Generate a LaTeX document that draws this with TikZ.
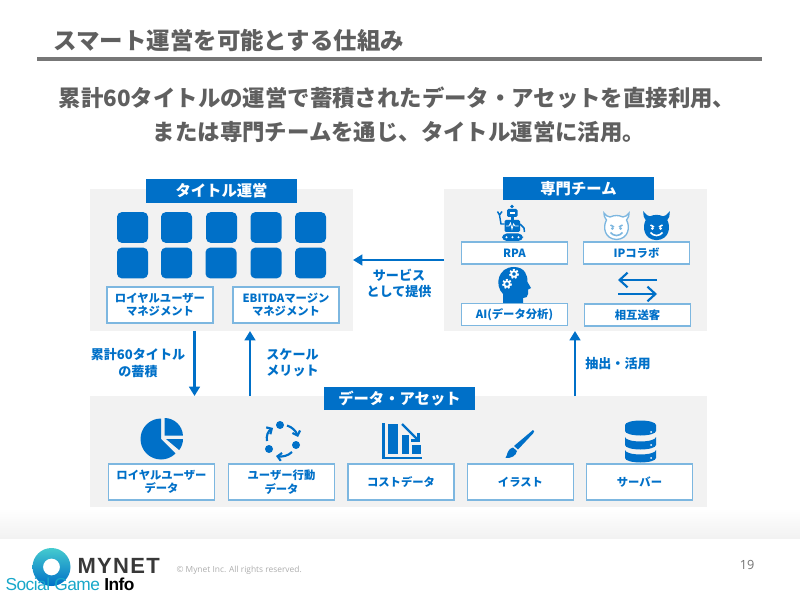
\documentclass[tikz,border=0pt]{standalone}
\usepackage{fontspec}
\setmainfont{Noto Sans CJK JP}
\newfontfamily\logofont[LetterSpace=6]{Liberation Sans}
\newfontfamily\wmfont[LetterSpace=-3]{Liberation Sans}
\newfontfamily\footfont{Open Sans}
\usetikzlibrary{arrows.meta}

\definecolor{mainblue}{HTML}{0070C8}
\definecolor{edgeblue}{HTML}{7DB7E0}
\definecolor{panelgray}{HTML}{F2F2F2}
\definecolor{textgray}{HTML}{5F5F5F}
\definecolor{siteteal}{HTML}{18A7C9}
\definecolor{ringtop}{HTML}{45CBCF}

\tikzset{every picture/.style={line width=0.75pt}}
\tikzset{
  panelbox/.style={fill=panelgray,inner sep=0pt,outer sep=0pt,minimum width=197.25pt,minimum height=106.5pt},
  headbox/.style={fill=mainblue,text=white,inner sep=0pt,outer sep=0pt,minimum width=113.25pt,minimum height=17.6pt,font=\fontsize{11.5}{13}\selectfont\bfseries},
  tilebox/.style={fill=mainblue,rounded corners=3.5pt,inner sep=0pt,minimum width=23.25pt,minimum height=23pt},
  namebox/.style={draw=edgeblue,line width=1pt,fill=white,text=mainblue,inner sep=0pt,outer sep=0pt,minimum width=79.5pt,align=center,font=\fontsize{8.5}{10}\selectfont\bfseries},
  tallbox/.style={namebox,minimum height=27pt},
  lowbox/.style={namebox,minimum height=16.5pt},
  sidelabel/.style={text=mainblue,inner sep=0pt,align=center,font=\fontsize{9.8}{12.2}\selectfont\bfseries},
  flowline/.style={draw=mainblue,line width=2pt,-{Triangle[length=7pt,width=8pt]}},
  iconline/.style={draw=mainblue,line width=1.6pt}
}

% one face with horns, at #1,#2: fill, outline, features
\newcommand{\devilface}[5]{
\begin{scope}[shift={(#1,#2)}]
\draw [fill=#3,draw=#4,line width=1pt] (-10,-8) .. controls (-12,-11) and (-13,-13) .. (-12.5,-15) .. controls (-11,-12.5) and (-9,-11.5) .. (-6.5,-11) .. controls (-2,-13) and (2,-13) .. (6.5,-11) .. controls (9,-11.5) and (11,-12.5) .. (12.5,-15) .. controls (13,-13) and (12,-11) .. (10,-8) .. controls (14,-1) and (12,11) .. (0,11.5) .. controls (-12,11) and (-14,-1) .. (-10,-8) -- cycle;
\draw [draw=#5,line width=1.2pt] (-6,-3) -- (-2.5,-1) (6,-3) -- (2.5,-1);
\fill [#5] (-4.2,0.5) circle [radius=1.5] (4.2,0.5) circle [radius=1.5];
\draw [draw=#5,line width=1.2pt] (-6,4.5) .. controls (-3,8.5) and (3,8.5) .. (6,4.5);
\end{scope}
}

\begin{document}
\begin{tikzpicture}[x=0.75pt,y=0.75pt,yscale=-1,xscale=1]
\useasboundingbox (0,0) rectangle (800,595);

%Footer band
\path [top color=white,bottom color=panelgray] (0,508) rectangle (800,538);

% Heading
\draw (53,41) node (pagetitle) [anchor=west,inner sep=0pt,text=textgray,font=\fontsize{17.6}{20}\selectfont\bfseries] {スマート運営を可能とする仕組み};
\draw [draw=textgray!85,line width=2.4pt] (37,59) -- (762,59);
\draw (397,98) node (leadone) [inner sep=0pt,text=textgray,font=\fontsize{16.8}{20}\selectfont\bfseries] {累計60タイトルの運営で蓄積されたデータ・アセットを直接利用、};
\draw (399,132) node (leadtwo) [inner sep=0pt,text=textgray,font=\fontsize{16.8}{20}\selectfont\bfseries] {または専門チームを通じ、タイトル運営に活用。};

% Panels
\draw (221.5,260) node (titlepanel) [panelbox] {};
\draw (575.5,260) node (teampanel) [panelbox] {};
\draw (398.5,451.5) node (assetpanel) [panelbox,minimum width=462.75pt,minimum height=83.25pt] {};
\draw (221.5,191) node (titlehead) [headbox] {タイトル運営};
\draw (578.5,188.5) node (teamhead) [headbox] {専門チーム};
\draw (399.5,398.5) node (assethead) [headbox] {データ・アセット};

% Tiles
\draw (132.5,227.5) node (tilea) [tilebox] {};
\draw (176.5,227.5) node (tileb) [tilebox] {};
\draw (221.5,227.5) node (tilec) [tilebox] {};
\draw (266,227.5) node (tiled) [tilebox] {};
\draw (310.5,227.5) node (tilee) [tilebox] {};
\draw (132.5,263) node (tilef) [tilebox] {};
\draw (176.5,263) node (tileg) [tilebox] {};
\draw (221,263) node (tileh) [tilebox] {};
\draw (266,263) node (tilei) [tilebox] {};
\draw (310.5,263) node (tilej) [tilebox] {};

% Name boxes
\draw (160,305) node (royalbox) [tallbox] {ロイヤルユーザー\\マネジメント};
\draw (286,305) node (ebitdabox) [tallbox] {EBITDAマージン\\マネジメント};
\draw (514.5,253) node (rpabox) [lowbox] {RPA};
\draw (636.5,253) node (ipbox) [lowbox] {IPコラボ};
\draw (514.5,314.5) node (aibox) [lowbox] {AI(データ分析)};
\draw (637.5,315) node (sendbox) [lowbox] {相互送客};
\draw (161.5,482) node (royaldata) [tallbox] {ロイヤルユーザー\\データ};
\draw (281.5,482) node (actiondata) [tallbox] {ユーザー行動\\データ};
\draw (401,482) node (costdata) [tallbox] {コストデータ};
\draw (520.5,482) node (artdata) [tallbox] {イラスト};
\draw (639.5,482) node (serverdata) [tallbox] {サーバー};

% Connectors
\coordinate (downa) at (194.5,331);
\coordinate (downb) at (194.5,396);
\coordinate (upa) at (250,396);
\coordinate (upb) at (250,331);
\coordinate (upc) at (575,396);
\coordinate (upd) at (575,331);
\draw [flowline] (teampanel.west) -- (titlepanel.east);
\draw [flowline] (downa) -- (downb);
\draw [flowline] (upa) -- (upb);
\draw [flowline] (upc) -- (upd);

% Side labels
\draw (399,283.5) node (servicetext) [sidelabel] {サービス\\として提供};
\draw (138,363) node (stocktext) [sidelabel] {累計60タイトル\\の蓄積};
\draw (292.5,363) node (scaletext) [sidelabel] {スケール\\メリット};
\draw (618,364) node (usetext) [sidelabel] {抽出・活用};

%Robot
\fill [mainblue] (512,206.5) circle [radius=1.8];
\draw [fill=mainblue,draw=none,rounded corners=1pt] (507,209) rectangle (517.5,217);
\fill [white] (510,212) rectangle (514.5,214);
\fill [mainblue] (511,217) rectangle (514,220);
\draw [fill=mainblue,draw=none,rounded corners=1pt] (504.5,220) rectangle (520,232);
\draw [draw=white,line width=0.6pt] (506,226) -- (509,226) -- (510.5,223) -- (512,229) -- (513.5,224) -- (515,226) -- (518.5,226);
\draw [fill=mainblue,draw=none,rounded corners=3.5pt] (502,233.5) rectangle (523,241);
\fill [white] (506.5,237.2) circle [radius=1.1] (512.5,237.2) circle [radius=1.1] (518.5,237.2) circle [radius=1.1];
\draw [draw=mainblue,line width=1.1pt] (504.5,224) -- (501,224) -- (499.5,215) (497.5,211.5) -- (499.5,215) -- (502,211.5);
\draw [draw=mainblue,line width=1.1pt] (520,224) -- (524,228) -- (524.5,232);

%Devils
\devilface{616.5}{228}{white}{edgeblue}{edgeblue}
\devilface{656.5}{228}{mainblue}{mainblue}{white}

%Head with gears
\fill [mainblue] (503,303) -- (503,294) .. controls (494,285) and (498,267) .. (514,267) .. controls (525,267) and (528,276) .. (527.5,282) -- (531,288) -- (528,289.5) -- (528,294) .. controls (528,297) and (526,298) .. (523,298) -- (523,303) -- cycle;
\draw [draw=white,line width=1.6pt,dash pattern=on 1.3pt off 1.3pt] (514,274) circle [radius=4];
\draw [draw=white,line width=1.3pt] (514,274) circle [radius=2.8];
\draw [draw=white,line width=1.6pt,dash pattern=on 1.3pt off 1.3pt] (507,284) circle [radius=4];
\draw [draw=white,line width=1.3pt] (507,284) circle [radius=2.8];

%Two way arrows
\coordinate (swapa) at (657,280);
\coordinate (swapb) at (618,280);
\coordinate (swapc) at (618,294);
\coordinate (swapd) at (657,294);
\draw [iconline,-{Straight Barb[length=6pt,width=11pt]}] (swapa) -- (swapb);
\draw [iconline,-{Straight Barb[length=6pt,width=11pt]}] (swapc) -- (swapd);

%Pie
\fill [mainblue] (161,439) -- (161,418.5) arc [start angle=270,delta angle=-225,radius=20.5] -- cycle;
\fill [mainblue] (164.5,435.5) -- (164.5,418) arc [start angle=-90,end angle=-3,radius=18.5] -- cycle;
\fill [mainblue] (166,439) -- (183,439) arc [start angle=0,end angle=38,radius=18] -- cycle;

%Cycle
\fill [mainblue] (280,425) circle [radius=4] (296,445) circle [radius=4] (269,449) circle [radius=4];
\draw [iconline,-{Straight Barb[length=3pt,width=6pt]}] (287,425.5) .. controls (292,427) and (296,431) .. (298,437);
\draw [iconline,-{Straight Barb[length=3pt,width=6pt]}] (292,452) .. controls (288,456) and (282,457) .. (276,456);
\draw [iconline,-{Straight Barb[length=3pt,width=6pt]}] (267,441) .. controls (266,436) and (268,431) .. (273,428);

%Bars
\fill [mainblue] (382,423) rectangle (385,459);
\fill [mainblue] (382,456.5) rectangle (422,459);
\fill [mainblue] (388,423.5) rectangle (398,453.5);
\fill [mainblue] (401.5,435) rectangle (409,453.5);
\fill [mainblue] (412,445) rectangle (420.5,453.5);
\draw [iconline,-{Straight Barb[length=4pt,width=8pt]}] (402,424) -- (419.5,441.5);

%Brush
\fill [mainblue] (533,430) .. controls (534.5,430.5) and (534.5,432) .. (533,433.5) -- (518,449.5) -- (514,446) -- cycle;
\fill [mainblue] (513,447.5) -- (517,451) .. controls (516,456) and (511,458.5) .. (505.5,458) .. controls (508,455) and (506,450) .. (513,447.5) -- cycle;

%Database
\path [fill=mainblue] (625,425) arc [start angle=180,end angle=360,x radius=15.5,y radius=4.5] -- (656,431) arc [start angle=0,end angle=180,x radius=15.5,y radius=4.5] -- cycle;
\path [fill=mainblue] (625,437) arc [start angle=180,end angle=0,x radius=15.5,y radius=4.5] -- (656,445) arc [start angle=0,end angle=180,x radius=15.5,y radius=4.5] -- cycle;
\path [fill=mainblue] (625,450) arc [start angle=180,end angle=0,x radius=15.5,y radius=4.5] -- (656,458) arc [start angle=0,end angle=180,x radius=15.5,y radius=4.5] -- cycle;
\fill [white] (651,432) circle [radius=1] (651,445) circle [radius=1] (651,458) circle [radius=1];

% Footer
\path [even odd rule,top color=ringtop,bottom color=mainblue] (51.5,567) circle [radius=19] (51.5,567) circle [radius=8.5];
\draw (77,565.5) node (logoword) [anchor=west,inner sep=0pt,text=black!78,font=\fontsize{16.5}{18}\logofont\bfseries] {MYNET};
\draw (176,570.5) node (rightsline) [anchor=west,inner sep=0pt,text=black!32,font=\fontsize{6.3}{8}\footfont] {© Mynet Inc. All rights reserved.};
\draw (747,565) node (pagenum) [inner sep=0pt,text=black!55,font=\fontsize{9.5}{11}\footfont] {19};
\draw (5,584) node (sitemark) [anchor=west,inner sep=0pt,font=\fontsize{13}{14}\wmfont] {\textcolor{siteteal}{Social Game} \textbf{Info}};

\end{tikzpicture}
\end{document}
